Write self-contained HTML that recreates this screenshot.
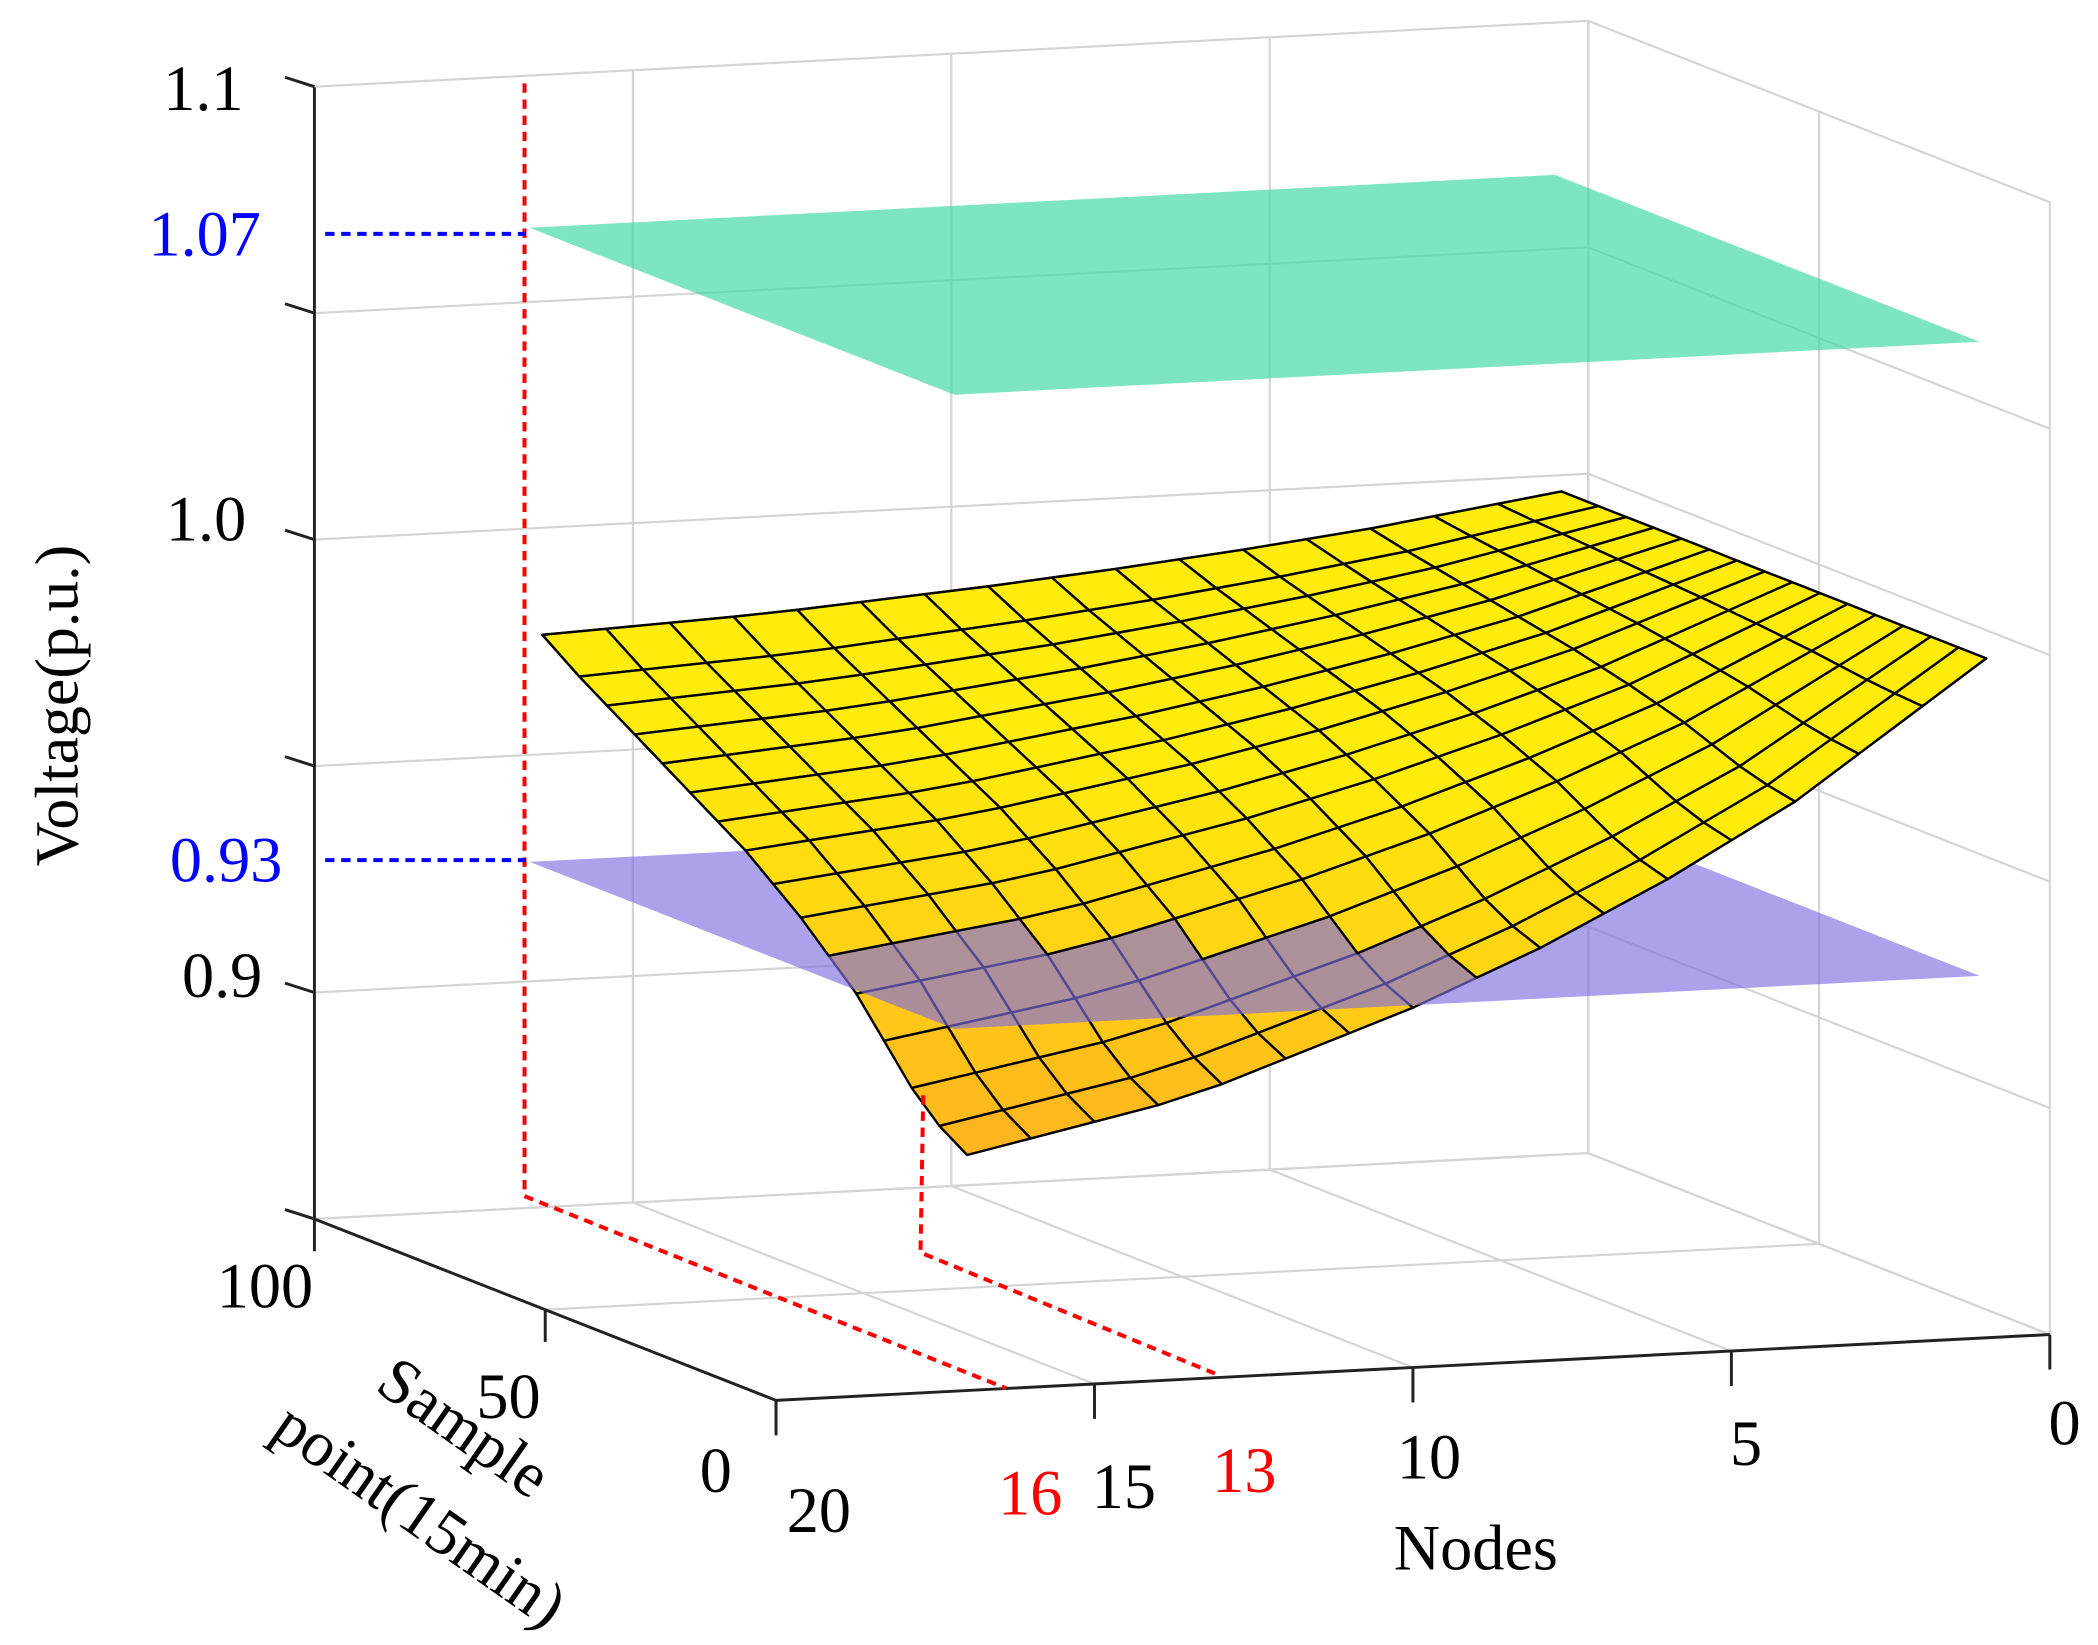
<!DOCTYPE html>
<html><head><meta charset="utf-8"><style>
html,body{margin:0;padding:0;background:#fff;}
svg{display:block;}
text{font-family:"Liberation Serif",serif;}
</style></head><body>
<svg id="chart" width="2098" height="1645" viewBox="0 0 1568 1224" preserveAspectRatio="none" xmlns="http://www.w3.org/2000/svg">
<g id="grid"></g>
<g id="surf"></g>
<g id="axes"></g>
<g id="annot">
<polyline points="392,62 392,890 752,1033" fill="none" stroke="#f00" stroke-width="3" stroke-dasharray="7,5"/>
<polyline points="690,815 688,932 908,1022" fill="none" stroke="#f00" stroke-width="3" stroke-dasharray="7,5"/>
<line x1="243" y1="174" x2="393" y2="174" stroke="#00f" stroke-width="3" stroke-dasharray="7,5"/>
<line x1="243" y1="640" x2="393" y2="640" stroke="#00f" stroke-width="3" stroke-dasharray="7,5"/>
</g>
<g id="labels" font-size="48" fill="#000">
<text x="182" y="82" text-anchor="end">1.1</text>
<text x="195" y="190" text-anchor="end" fill="#00f">1.07</text>
<text x="184" y="402" text-anchor="end">1.0</text>
<text x="211" y="656" text-anchor="end" fill="#00f">0.93</text>
<text x="196" y="742" text-anchor="end">0.9</text>
<text transform="translate(58,525) rotate(-90)" text-anchor="middle" font-size="46">Voltage(p.u.)</text>
<text x="198" y="973" text-anchor="middle">100</text>
<text x="380" y="1055" text-anchor="middle">50</text>
<text x="535" y="1110" text-anchor="middle">0</text>
<text x="612" y="1140" text-anchor="middle">20</text>
<text x="770" y="1127" text-anchor="middle" fill="#f00">16</text>
<text x="840" y="1122" text-anchor="middle">15</text>
<text x="930" y="1110" text-anchor="middle" fill="#f00">13</text>
<text x="1068" y="1100" text-anchor="middle">10</text>
<text x="1305" y="1090" text-anchor="middle">5</text>
<text x="1543" y="1075" text-anchor="middle">0</text>
<text x="1103" y="1168" text-anchor="middle">Nodes</text>
<text transform="translate(338,1075) rotate(35)" text-anchor="middle">Sample</text>
<text transform="translate(305,1140) rotate(35)" text-anchor="middle">point(15min)</text>
</g>
</svg>
<script>
// ---- data ----
const nodeIds = [1,2,3,4,5,6,7,8,9,10,11,12,13,14,15,16,17];
const nodeDropShape = [0,0.1,0.2,0.3,0.38,0.46,0.53,0.6,0.66,0.72,0.77,0.82,0.87,0.91,0.94,0.97,1.0];
const samplePoints = [0,6,12,18,24,30,36,42,48,54,60,66,72,78,84,92];
const sampleMaxDrop = [0.098,0.094,0.088,0.08,0.072,0.066,0.06,0.055,0.05,0.046,0.042,0.038,0.034,0.03,0.026,0.02];
const zTicks = [0.85,0.9,0.95,1.0,1.05,1.1];
const nodeTicks = [20,15,10,5,0];
const sampleTicks = [0,50,100];
const upperLimit = 1.07, lowerLimit = 0.93;
const planeNodes = [17.2,1.1];
const planeSamples = [0,92];

// ---- projection ----
function P(n,s,v){
  return [580+47.6*(20-n)-3.45*s, 1042-2.45*(20-n)-1.35*s-(v-0.85)*3370];
}
const NS='http://www.w3.org/2000/svg';
function mk(tag,attrs,parent){const e=document.createElementNS(NS,tag);for(const k in attrs)e.setAttribute(k,attrs[k]);parent.appendChild(e);return e;}
function pts(a){return a.map(p=>p[0].toFixed(1)+','+p[1].toFixed(1)).join(' ');}
const grid=document.getElementById('grid'),surf=document.getElementById('surf'),axes=document.getElementById('axes');
const gs={stroke:'#d4d4d4','stroke-width':1.6,fill:'none'};
zTicks.forEach(z=>{
  const l=mk('polyline',Object.assign({points:pts([P(20,100,z),P(0,100,z),P(0,0,z)])},gs),grid);
  
  
});
nodeTicks.forEach(n=>{
  const l=mk('polyline',Object.assign({points:pts([P(n,0,0.85),P(n,100,0.85),P(n,100,1.1)])},gs),grid);
  
  
});
sampleTicks.forEach(s=>{
  const l=mk('polyline',Object.assign({points:pts([P(20,s,0.85),P(0,s,0.85),P(0,s,1.1)])},gs),grid);
  
  
});
function plane(v,color,op,name,parent){
  const c=[P(planeNodes[0],planeSamples[1],v),P(planeNodes[1],planeSamples[1],v),P(planeNodes[1],planeSamples[0],v),P(planeNodes[0],planeSamples[0],v)];
  const e=mk('polygon',{points:pts(c),fill:color,'fill-opacity':op},parent);
  
  
}
plane(upperLimit,'#3fd8a4',0.68,'upper-limit-plane',grid);
function V(i,j){return 1-nodeDropShape[i]*sampleMaxDrop[j];}
const quads=[];
for(let j=0;j<samplePoints.length-1;j++)for(let i=0;i<nodeIds.length-1;i++){
  const c=[[i,j],[i+1,j],[i+1,j+1],[i,j+1]];
  const vs=c.map(([a,b])=>V(a,b));
  const p=c.map(([a,b])=>P(nodeIds[a],samplePoints[b],V(a,b)));
  const depth=(samplePoints[j]+samplePoints[j+1])/2/100 - (nodeIds[i]+nodeIds[i+1])/2/20*0.3;
  quads.push({p,vs,depth});
}
quads.sort((a,b)=>b.depth-a.depth);
function col(v){const t=Math.max(0,Math.min(1,(0.965-v)/0.06));return 'rgb(255,'+Math.round(236-55*t)+','+Math.round(10+20*t)+')';}
function drawQ(q,parent){
  const vm=q.vs.reduce((a,b)=>a+b)/4;
  const e=mk('polygon',{points:pts(q.p),fill:col(vm),stroke:'#000','stroke-width':1.8,'stroke-linejoin':'round'},parent);
  
  
}
quads.forEach(q=>drawQ(q,surf));
plane(lowerLimit,'#7f6fe0',0.65,'lower-limit-plane',surf);
quads.filter(q=>Math.min(...q.vs)>lowerLimit+0.003).forEach(q=>drawQ(q,surf));
const as={stroke:'#222','stroke-width':2.2,fill:'none'};
let a=mk('line',Object.assign({x1:235,y1:65,x2:235,y2:907},as),axes);

a=mk('polyline',Object.assign({points:pts([P(20,100,0.85),P(20,0,0.85),P(0,0,0.85)])},as),axes);

zTicks.forEach(z=>{const p=P(20,100,z);const t=mk('line',Object.assign({x1:p[0],y1:p[1],x2:p[0]-22,y2:p[1]-7},as),axes);
  });
nodeTicks.forEach(n=>{const p=P(n,0,0.85);const t=mk('line',Object.assign({x1:p[0],y1:p[1],x2:p[0],y2:p[1]+26},as),axes);
  });
sampleTicks.forEach(s=>{const p=P(20,s,0.85);const t=mk('line',Object.assign({x1:p[0],y1:p[1],x2:p[0],y2:p[1]+24},as),axes);
  });
</script>
</body></html>
